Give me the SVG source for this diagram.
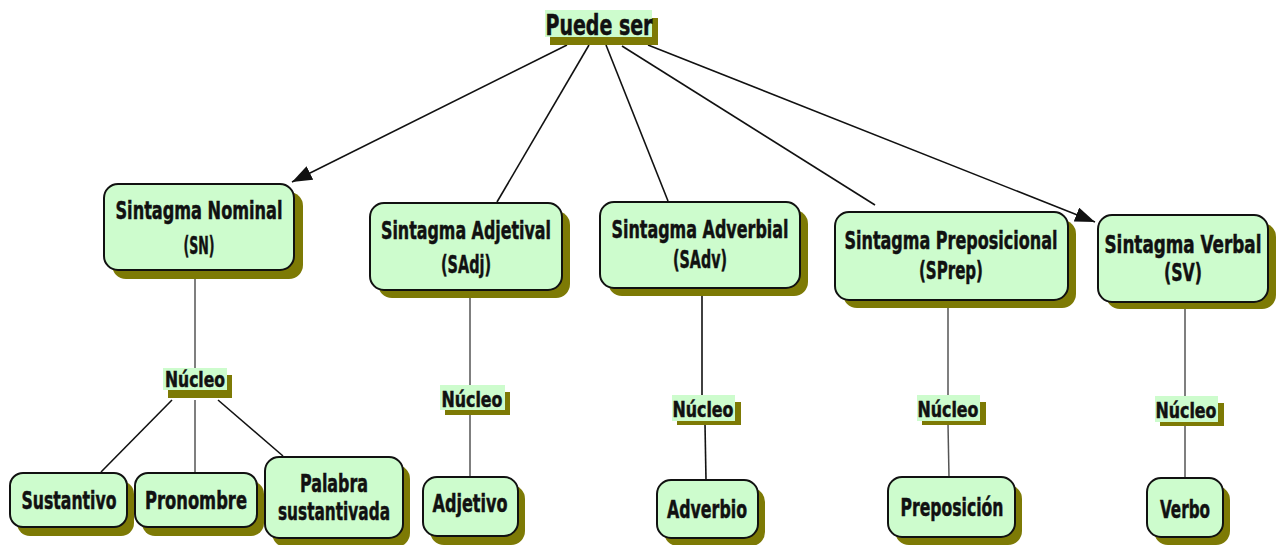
<svg xmlns="http://www.w3.org/2000/svg" width="1278" height="545" viewBox="0 0 1278 545">
<defs>
<style>
.sh{fill:#7d7a05}
.bx{fill:#cdfccd;stroke:#111;stroke-width:2}
.hl{fill:#cdfccd}
.t{font-family:"DejaVu Sans Condensed","DejaVu Sans",sans-serif;font-weight:bold;fill:#111;stroke:#111;stroke-width:0.5;text-anchor:middle;font-size:25.5px}
.n{font-size:22px}
.p{font-size:29px}
.c{stroke:#111;stroke-width:1.6;fill:none}
.g{stroke:#555;stroke-width:1.5;fill:none}
</style>
<marker id="ah" viewBox="0 0 20 15" refX="20" refY="7.5" markerWidth="20" markerHeight="15" markerUnits="userSpaceOnUse" orient="auto"><path d="M0,0 L20,7.5 L0,15 z" fill="#111"/></marker>
</defs>
<rect width="1278" height="545" fill="#fff"/>
<g id="connectors">
<line class="c" x1="567" y1="45" x2="292" y2="182" stroke-width="2" marker-end="url(#ah)"/>
<line class="c" x1="589" y1="45" x2="497" y2="202"/>
<line class="c" x1="606" y1="45" x2="668" y2="201"/>
<line class="c" x1="622" y1="46" x2="875" y2="205"/>
<line class="c" x1="648" y1="45" x2="1095" y2="222" stroke-width="2" marker-end="url(#ah)"/>
<line class="g" x1="195" y1="271" x2="195" y2="368"/>
<line class="c" x1="172" y1="400" x2="101" y2="472"/>
<line class="g" x1="195" y1="400" x2="195" y2="472"/>
<line class="c" x1="218" y1="400" x2="283" y2="456"/>
<line class="g" x1="470" y1="290" x2="470" y2="385"/>
<line class="g" x1="470" y1="412" x2="470" y2="477"/>
<line class="c" x1="702" y1="288" x2="702" y2="395"/>
<line class="c" x1="705" y1="424" x2="706" y2="480"/>
<line class="g" x1="948" y1="300" x2="948" y2="395"/>
<line class="g" x1="948" y1="424" x2="949" y2="477"/>
<line class="g" x1="1185" y1="303" x2="1185" y2="397"/>
<line class="g" x1="1185" y1="424" x2="1185" y2="478"/>
</g>
<g id="puede">
<rect class="sh" x="550" y="18" width="108" height="27"/>
<rect class="hl" x="545" y="10" width="107" height="27"/>
<text class="t p" x="599" y="35" transform="matrix(0.8 0 0 1 119.8 0)" textLength="133.75" lengthAdjust="spacingAndGlyphs">Puede ser</text>
</g>
<g id="sn">
<rect class="sh" x="112" y="192" width="191" height="87" rx="14"/>
<rect class="bx" x="104" y="184" width="190" height="86" rx="14"/>
<text class="t" x="199" y="219" transform="matrix(0.8 0 0 1 39.8 0)" textLength="208.75" lengthAdjust="spacingAndGlyphs">Sintagma Nominal</text>
<text class="t" x="199" y="254" transform="matrix(0.8 0 0 1 39.8 0)" textLength="38.75" lengthAdjust="spacingAndGlyphs">(SN)</text>
</g>
<g id="sadj">
<rect class="sh" x="378" y="211" width="192" height="87" rx="14"/>
<rect class="bx" x="370" y="203" width="192" height="87" rx="14"/>
<text class="t" x="466" y="239" transform="matrix(0.8 0 0 1 93.2 0)" textLength="212.5" lengthAdjust="spacingAndGlyphs">Sintagma Adjetival</text>
<text class="t" x="466" y="273" transform="matrix(0.8 0 0 1 93.2 0)" textLength="62.5" lengthAdjust="spacingAndGlyphs">(SAdj)</text>
</g>
<g id="sadv">
<rect class="sh" x="608" y="210" width="200" height="86" rx="14"/>
<rect class="bx" x="600" y="202" width="200" height="86" rx="14"/>
<text class="t" x="700" y="238" transform="matrix(0.8 0 0 1 140 0)" textLength="221.25" lengthAdjust="spacingAndGlyphs">Sintagma Adverbial</text>
<text class="t" x="700" y="268" transform="matrix(0.8 0 0 1 140 0)" textLength="67.5" lengthAdjust="spacingAndGlyphs">(SAdv)</text>
</g>
<g id="sprep">
<rect class="sh" x="843" y="220" width="233" height="88" rx="14"/>
<rect class="bx" x="835" y="212" width="233" height="88" rx="14"/>
<text class="t" x="951" y="249" transform="matrix(0.8 0 0 1 190.2 0)" textLength="266.25" lengthAdjust="spacingAndGlyphs">Sintagma Preposicional</text>
<text class="t" x="951" y="279" transform="matrix(0.8 0 0 1 190.2 0)" textLength="80" lengthAdjust="spacingAndGlyphs">(SPrep)</text>
</g>
<g id="sv">
<rect class="sh" x="1106" y="223" width="170" height="86" rx="14"/>
<rect class="bx" x="1098" y="215" width="170" height="87" rx="14"/>
<text class="t" x="1183" y="253" transform="matrix(0.8 0 0 1 236.6 0)" textLength="196.25" lengthAdjust="spacingAndGlyphs">Sintagma Verbal</text>
<text class="t" x="1183" y="281" transform="matrix(0.8 0 0 1 236.6 0)" textLength="47.5" lengthAdjust="spacingAndGlyphs">(SV)</text>
</g>
<g id="nucleo-sn">
<rect class="sh" x="168" y="375" width="64" height="23"/>
<rect class="hl" x="163" y="368" width="64" height="22"/>
<text class="t n" x="195" y="387" transform="matrix(0.8 0 0 1 39 0)" textLength="75" lengthAdjust="spacingAndGlyphs">Núcleo</text>
</g>
<g id="nucleo-sadj">
<rect class="sh" x="445" y="392" width="65" height="23"/>
<rect class="hl" x="440" y="385" width="65" height="25"/>
<text class="t n" x="472" y="407" transform="matrix(0.8 0 0 1 94.4 0)" textLength="76.25" lengthAdjust="spacingAndGlyphs">Núcleo</text>
</g>
<g id="nucleo-sadv">
<rect class="sh" x="677" y="402" width="64" height="23"/>
<rect class="hl" x="672" y="395" width="63" height="26"/>
<text class="t n" x="703" y="417" transform="matrix(0.8 0 0 1 140.6 0)" textLength="76.25" lengthAdjust="spacingAndGlyphs">Núcleo</text>
</g>
<g id="nucleo-sprep">
<rect class="sh" x="922" y="402" width="64" height="23"/>
<rect class="hl" x="917" y="395" width="63" height="26"/>
<text class="t n" x="948" y="417" transform="matrix(0.8 0 0 1 189.6 0)" textLength="76.25" lengthAdjust="spacingAndGlyphs">Núcleo</text>
</g>
<g id="nucleo-sv">
<rect class="sh" x="1160" y="403" width="64" height="23"/>
<rect class="hl" x="1155" y="396" width="63" height="26"/>
<text class="t n" x="1186" y="418" transform="matrix(0.8 0 0 1 237.2 0)" textLength="76.25" lengthAdjust="spacingAndGlyphs">Núcleo</text>
</g>
<g id="sustantivo">
<rect class="sh" x="17" y="481" width="117" height="55" rx="13"/>
<rect class="bx" x="10" y="473" width="117" height="54" rx="13"/>
<text class="t" x="69" y="509" transform="matrix(0.8 0 0 1 13.8 0)" textLength="118.75" lengthAdjust="spacingAndGlyphs">Sustantivo</text>
</g>
<g id="pronombre">
<rect class="sh" x="142" y="481" width="122" height="55" rx="13"/>
<rect class="bx" x="135" y="473" width="122" height="54" rx="13"/>
<text class="t" x="196" y="509" transform="matrix(0.8 0 0 1 39.2 0)" textLength="127.5" lengthAdjust="spacingAndGlyphs">Pronombre</text>
</g>
<g id="palabra">
<rect class="sh" x="272" y="465" width="138" height="82" rx="14"/>
<rect class="bx" x="265" y="457" width="138" height="81" rx="14"/>
<text class="t" x="334" y="492" transform="matrix(0.8 0 0 1 66.8 0)" textLength="85" lengthAdjust="spacingAndGlyphs">Palabra</text>
<text class="t" x="334" y="520" transform="matrix(0.8 0 0 1 66.8 0)" textLength="140" lengthAdjust="spacingAndGlyphs">sustantivada</text>
</g>
<g id="adjetivo">
<rect class="sh" x="430" y="485" width="95" height="60" rx="14"/>
<rect class="bx" x="423" y="477" width="95" height="59" rx="14"/>
<text class="t" x="470" y="512" transform="matrix(0.8 0 0 1 94 0)" textLength="93.75" lengthAdjust="spacingAndGlyphs">Adjetivo</text>
</g>
<g id="adverbio">
<rect class="sh" x="664" y="488" width="101" height="58" rx="14"/>
<rect class="bx" x="657" y="480" width="101" height="58" rx="14"/>
<text class="t" x="707" y="518" transform="matrix(0.8 0 0 1 141.4 0)" textLength="100" lengthAdjust="spacingAndGlyphs">Adverbio</text>
</g>
<g id="preposicion">
<rect class="sh" x="895" y="485" width="127" height="60" rx="14"/>
<rect class="bx" x="888" y="477" width="127" height="60" rx="14"/>
<text class="t" x="952" y="516" transform="matrix(0.8 0 0 1 190.4 0)" textLength="128.75" lengthAdjust="spacingAndGlyphs">Preposición</text>
</g>
<g id="verbo">
<rect class="sh" x="1154" y="486" width="76" height="59" rx="14"/>
<rect class="bx" x="1147" y="478" width="76" height="59" rx="14"/>
<text class="t" x="1185" y="518" transform="matrix(0.8 0 0 1 237 0)" textLength="62.5" lengthAdjust="spacingAndGlyphs">Verbo</text>
</g>
</svg>
